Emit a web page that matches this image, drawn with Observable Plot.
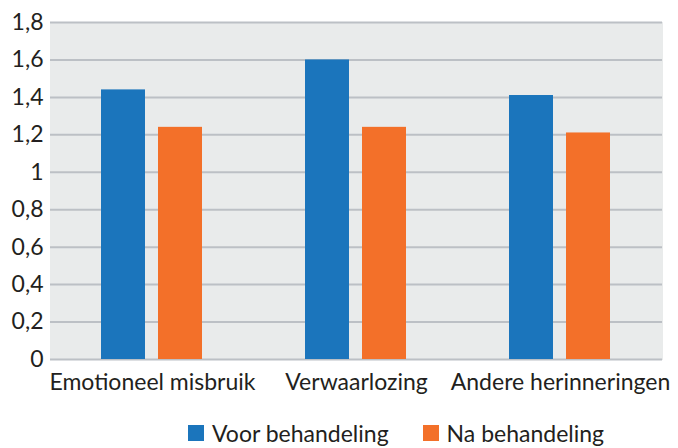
<!DOCTYPE html>
<html>
<head>
<meta charset="utf-8">
<script src="https://cdn.jsdelivr.net/npm/d3@7"></script>
<script src="https://cdn.jsdelivr.net/npm/@observablehq/plot@0.6"></script>
<style>
  html, body { margin: 0; padding: 0; background: #fff; }
  body { width: 678px; height: 448px; overflow: hidden; font-family: Lato, sans-serif; color: #231f20; }
  #legend { display: flex; align-items: center; padding-left: 188px; padding-top: 8px; height: 30px; font-size: 23px; }
  .item { display: flex; align-items: center; margin-right: 34px; }
  .sw { width: 16px; height: 16px; margin-right: 8px; }
</style>
</head>
<body>
<div id="chart"></div>
<div id="legend"></div>
<script>
const categories = ["Emotioneel misbruik", "Verwaarlozing", "Andere herinneringen"];
const series = ["Voor behandeling", "Na behandeling"];
const voor = [1.44, 1.60, 1.41];
const na = [1.24, 1.24, 1.21];
const yTicks = [0, 0.2, 0.4, 0.6, 0.8, 1, 1.2, 1.4, 1.6, 1.8];
const colors = ["#1b75bc", "#f37029"];

const rows = [];
categories.forEach((c, i) => {
  rows.push({cat: c, series: series[0], value: voor[i]});
  rows.push({cat: c, series: series[1], value: na[i]});
});

const fmt = d => String(d).replace(".", ",");

const chart = Plot.plot({
  width: 678,
  height: 410,
  marginLeft: 50,
  marginRight: 16,
  marginTop: 22,
  marginBottom: 51,
  style: {fontFamily: "Lato, sans-serif", fontSize: "23px", color: "#231f20", background: "#fff"},
  fx: {domain: categories, padding: 0, label: null, tickSize: 0, tickPadding: 14, axis: "bottom"},
  x: {domain: series, axis: null, paddingInner: 0.228, paddingOuter: 0.9},
  y: {domain: [0, 1.8], ticks: yTicks, tickFormat: fmt, tickSize: 0, tickPadding: 7, label: null},
  color: {domain: series, range: colors},
  marks: [
    Plot.frame({fill: "#e9ebeb", stroke: "#e9ebeb", strokeWidth: 1}),
    Plot.ruleY(yTicks, {stroke: "#bcc0c5", strokeWidth: 2}),
    Plot.barY(rows, {fx: "cat", x: "series", y: "value", fill: "series"})
  ]
});
document.getElementById("chart").appendChild(chart);

const legend = document.getElementById("legend");
series.forEach((s, i) => {
  const item = document.createElement("div");
  item.className = "item";
  const sw = document.createElement("span");
  sw.className = "sw";
  sw.style.background = colors[i];
  const t = document.createElement("span");
  t.textContent = s;
  item.appendChild(sw);
  item.appendChild(t);
  legend.appendChild(item);
});
</script>
</body>
</html>
